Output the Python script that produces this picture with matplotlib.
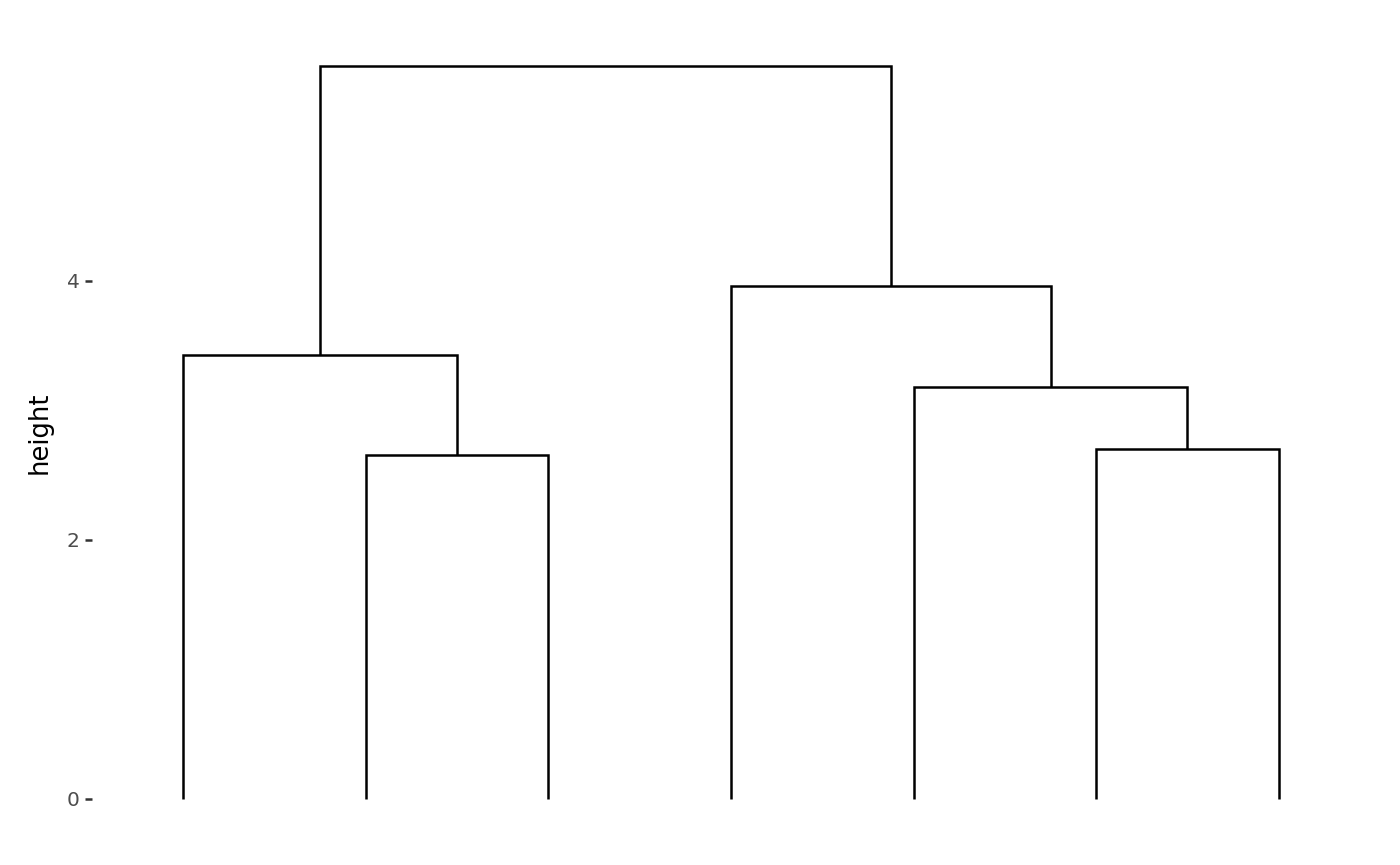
import matplotlib.pyplot as plt

# leaves are numbered 1..7 in plotting order
n_leaves = 7

# merges: (left child, right child, height); negative ids point to earlier merges
merge_left = [2, 6, 5, 1, 4, -4]
merge_right = [3, 7, -2, -1, -3, -5]
merge_height = [2.656, 2.703, 3.181, 3.429, 3.961, 5.66]

y_ticks = [0, 2, 4]

fig = plt.figure(figsize=(14, 8.65), dpi=100)
ax = fig.add_axes([92 / 1400, 29 / 865, 1278 / 1400, 807 / 865])


def node_pos(node, xs, hs):
    # leaf -> (x, 0), internal -> (centre, height)
    if node > 0:
        return node, 0.0
    return xs[-node - 1], hs[-node - 1]


xs, hs = [], []
for left, right, h in zip(merge_left, merge_right, merge_height):
    xl, yl = node_pos(left, xs, hs)
    xr, yr = node_pos(right, xs, hs)
    ax.plot([xl, xl, xr, xr], [yl, h, h, yr], color='black', lw=1.8,
            solid_joinstyle='miter', solid_capstyle='butt')
    xs.append((xl + xr) / 2)
    hs.append(h)

ax.set_xlim(0.5, n_leaves + 0.5)
ax.set_ylim(-0.286, 5.946)

ax.set_xticks([])
ax.set_yticks(y_ticks)
ax.set_yticklabels([str(t) for t in y_ticks], fontsize=14.5, color='#4D4D4D')
ax.tick_params(axis='y', length=5, width=1.8, color='#333333', pad=4)
for side in ax.spines.values():
    side.set_visible(False)

ax.set_ylabel('height', fontsize=18.5, color='black', labelpad=10)

fig.savefig('out.png', dpi=100)
